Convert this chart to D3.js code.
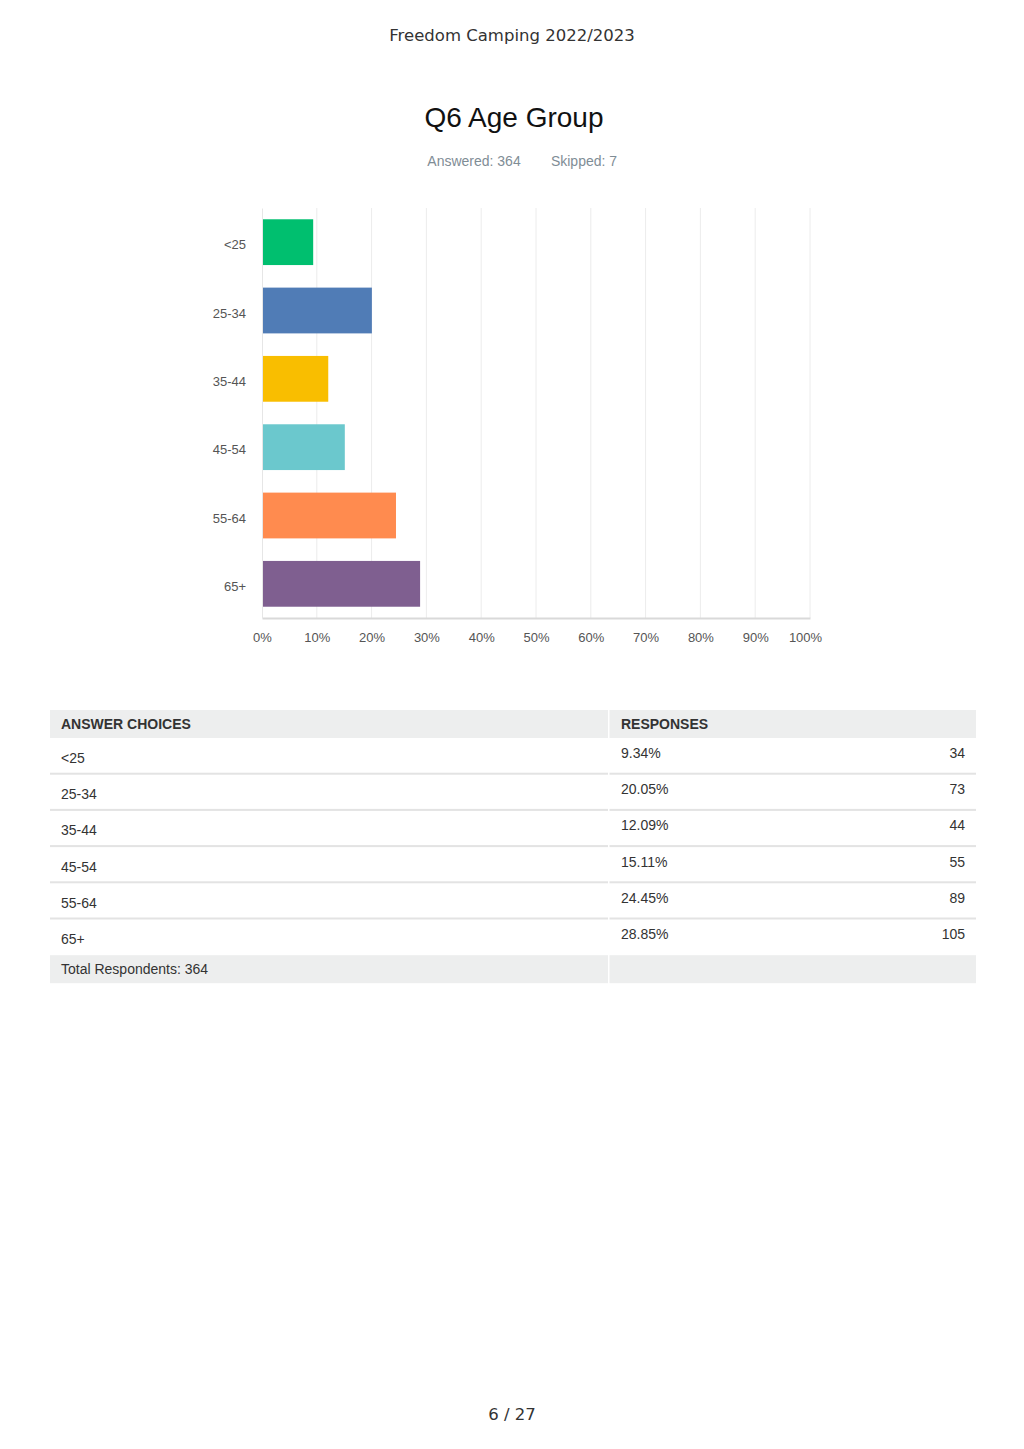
<!DOCTYPE html>
<html><head><meta charset="utf-8">
<script src="https://cdn.jsdelivr.net/npm/d3@7"></script>
<style>
html,body{margin:0;padding:0;background:#fff;}
svg{display:block;}
</style></head>
<body>
<svg id="c" width="1024" height="1449"></svg>
<script>
const categories = ["<25","25-34","35-44","45-54","55-64","65+"];
const percents = [9.34,20.05,12.09,15.11,24.45,28.85];
const counts = [34,73,44,55,89,105];
const colors = ["#00bf6f","#507cb6","#f9be00","#6bc8cd","#ff8b4f","#7f5f90"];
const xTicks = [0,10,20,30,40,50,60,70,80,90,100];
const pageTitle = "Freedom Camping 2022/2023";
const questionTitle = "Q6 Age Group";
const answered = 364, skipped = 7;
const pageLabel = "6 / 27";

const svg = d3.select("#c");
const sans = "'Liberation Sans', Arial, sans-serif";
const dejavu = "'DejaVu Sans', sans-serif";

svg.append("text").attr("x",512).attr("y",41).attr("text-anchor","middle")
  .attr("font-family",dejavu).attr("font-size",16.5).attr("fill","#333").text(pageTitle);
svg.append("text").attr("x",514).attr("y",127).attr("text-anchor","middle")
  .attr("font-family",sans).attr("font-size",28).attr("fill","#111").text(questionTitle);
svg.append("text").attr("x",474).attr("y",166).attr("text-anchor","middle")
  .attr("font-family",sans).attr("font-size",14).attr("fill","#7f8d96").text("Answered: "+answered);
svg.append("text").attr("x",584).attr("y",166).attr("text-anchor","middle")
  .attr("font-family",sans).attr("font-size",14).attr("fill","#7f8d96").text("Skipped: "+skipped);

// chart
const x = d3.scaleLinear().domain([0,100]).range([262,810]);
const y = d3.scaleBand().domain(categories).range([208,618]).paddingInner(0.33).paddingOuter(0.165);
const g = svg.append("g");
g.selectAll("line.grid").data(xTicks.slice(1)).join("line").attr("class","grid")
  .attr("x1",d=>x(d)).attr("x2",d=>x(d)).attr("y1",208).attr("y2",618)
  .attr("stroke","#ececec").attr("stroke-width",1);
g.selectAll("rect.bar").data(categories).join("rect").attr("class","bar")
  .attr("x",x(0)).attr("y",d=>y(d)).attr("height",y.bandwidth())
  .attr("width",(d,i)=>x(percents[i])-x(0)).attr("fill",(d,i)=>colors[i]);
// axes
const xa = g.append("g").attr("transform","translate(0,618)")
  .call(d3.axisBottom(x).tickValues(xTicks).tickFormat(d=>d+"%").tickSize(0).tickPadding(15));
xa.select(".domain").attr("stroke","#d9d9d9").attr("stroke-width",2);
xa.selectAll("text").attr("font-family",sans).attr("font-size",13).attr("fill","#555")
  .attr("dx",d=>d===100?-5:0);
const ya = g.append("g").attr("transform","translate(262,0)")
  .call(d3.axisLeft(y).tickSize(0).tickPadding(16));
ya.select(".domain").attr("stroke","#e6e6e6").attr("stroke-width",1);
ya.selectAll("text").attr("font-family",sans).attr("font-size",13).attr("fill","#555").attr("dy","0.55em");

// table
const tx0 = 50, tx1 = 976, tsplit = 608;
const headerTop = 710, headerH = 28, rowH = 36.2;
const t = svg.append("g").attr("font-family",sans).attr("font-size",14).attr("fill","#333");
t.append("rect").attr("x",tx0).attr("y",headerTop).attr("width",tsplit-tx0).attr("height",headerH).attr("fill","#edeeee");
t.append("rect").attr("x",tsplit+1.5).attr("y",headerTop).attr("width",tx1-tsplit-1.5).attr("height",headerH).attr("fill","#edeeee");
t.append("text").attr("x",61).attr("y",headerTop+19).attr("font-weight","bold").attr("fill","#333").text("ANSWER CHOICES");
t.append("text").attr("x",621).attr("y",headerTop+19).attr("font-weight","bold").attr("fill","#333").text("RESPONSES");
const rowTop = i => headerTop+headerH+i*rowH;
const rows = t.selectAll("g.row").data(categories).join("g").attr("class","row");
rows.append("text").attr("x",61).attr("y",(d,i)=>rowTop(i)+25).attr("fill","#333").text(d=>d);
rows.append("text").attr("x",621).attr("y",(d,i)=>rowTop(i)+20).attr("fill","#333").text((d,i)=>percents[i].toFixed(2)+"%");
rows.append("text").attr("x",965).attr("y",(d,i)=>rowTop(i)+20).attr("text-anchor","end").attr("fill","#333").text((d,i)=>counts[i]);
rows.filter((d,i)=>i<categories.length-1).append("rect")
  .attr("x",tx0).attr("y",(d,i)=>rowTop(i+1)-1.5).attr("width",tsplit-tx0).attr("height",2).attr("fill","#e3e3e3");
rows.filter((d,i)=>i<categories.length-1).append("rect")
  .attr("x",tsplit+1.5).attr("y",(d,i)=>rowTop(i+1)-1.5).attr("width",tx1-tsplit-1.5).attr("height",2).attr("fill","#e3e3e3");
const totTop = rowTop(categories.length);
t.append("rect").attr("x",tx0).attr("y",totTop).attr("width",tsplit-tx0).attr("height",28).attr("fill","#edeeee");
t.append("rect").attr("x",tsplit+1.5).attr("y",totTop).attr("width",tx1-tsplit-1.5).attr("height",28).attr("fill","#edeeee");
t.append("text").attr("x",61).attr("y",totTop+19).attr("fill","#333").text("Total Respondents: "+answered);

svg.append("text").attr("x",512).attr("y",1420).attr("text-anchor","middle")
  .attr("font-family",dejavu).attr("font-size",16.5).attr("fill","#333").text(pageLabel);
</script>
</body></html>
